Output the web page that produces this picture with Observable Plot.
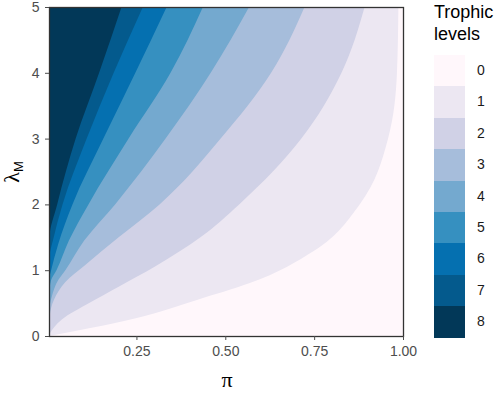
<!DOCTYPE html>
<html><head><meta charset="utf-8">
<script src="https://cdn.jsdelivr.net/npm/d3@7"></script>
<script src="https://cdn.jsdelivr.net/npm/@observablehq/plot@0.6"></script>
<style>
body{margin:0;background:#fff;font-family:"Liberation Sans",Arial,sans-serif}
#wrap{position:relative;width:500px;height:393px}
.lg{position:absolute}
</style>
</head><body><div id="wrap"></div>
<script>
// Trophic levels (legend categories) and colours
const levels = [0, 1, 2, 3, 4, 5, 6, 7, 8];
const levelColors = ["#fff7fb","#ece7f2","#d0d1e6","#a6bddb","#74a9cf","#3690c0","#0570b0","#045a8d","#023858"];
const xTicks = [0.25, 0.5, 0.75, 1.0];
const yTicks = [0, 1, 2, 3, 4, 5];

// Contour boundaries: [pi, lambdaM] pairs, one list per boundary
const edge1 = [[0,0],[0.12,0.12],[0.248,0.27],[0.418,0.545],[0.567,0.8],[0.751,1.3],[0.878,2],[0.958,3],[0.983,4],[0.987,5]]; // 0|1
const edge2 = [[0,0.02],[0.04,0.25],[0.117,0.5],[0.2,0.75],[0.3,1.05],[0.43,1.5],[0.539,2],[0.714,3],[0.827,4],[0.892,5]];  // 1|2
const edge3 = [[0,0.08],[0.006,0.3],[0.018,0.55],[0.05,0.82],[0.106,1.08],[0.2,1.5],[0.315,2],[0.487,3],[0.629,4],[0.723,5]]; // 2|3
const edge4 = [[0,0.2],[0.004,0.35],[0.012,0.6],[0.03,0.85],[0.05,1.0],[0.103,1.45],[0.19,2],[0.332,3],[0.459,4],[0.567,5]]; // 3|4
const edge5 = [[0,0.4],[0.004,0.6],[0.01,0.85],[0.025,1.0],[0.06,1.45],[0.115,2],[0.228,3],[0.346,4],[0.437,5]];             // 4|5
const edge6 = [[0,0.7],[0.004,0.85],[0.01,1.0],[0.03,1.4],[0.07,2],[0.157,3],[0.247,4],[0.335,5]];                           // 5|6
const edge7 = [[0,1.0],[0.005,1.2],[0.015,1.45],[0.042,2],[0.11,3],[0.186,4],[0.268,5]];                                     // 6|7
const edge8 = [[0,1.25],[0.005,1.5],[0.027,2],[0.079,3],[0.145,4],[0.208,5]];                                                // 7|8
const edges = [edge1, edge2, edge3, edge4, edge5, edge6, edge7, edge8];
const xMin = 0.004;

const marks = [Plot.frame({fill: levelColors[0], stroke: null})];
edges.forEach((e, i) => {
  marks.push(Plot.areaX(e, {y: d => d[1], x1: xMin, x2: d => Math.max(xMin, d[0]), fill: levelColors[i + 1], curve: "monotone-y", clip: true}));
});
marks.push(Plot.frame({stroke: "#333", strokeWidth: 1.3}));
marks.push(Plot.axisX({ticks: xTicks, tickFormat: d3.format(".2f"), tickSize: 4, tickPadding: 6, fontSize: 14, color: "#4d4d4d", label: null}));
marks.push(Plot.axisY({ticks: yTicks, tickFormat: d3.format("d"), tickSize: 4, tickPadding: 6, fontSize: 14, color: "#4d4d4d", label: null}));

const chart = Plot.plot({
  width: 500, height: 393,
  marginLeft: 49, marginRight: 97, marginTop: 7, marginBottom: 57,
  x: {domain: [xMin, 1]},
  y: {domain: [0, 5]},
  style: {fontFamily: "'Liberation Sans', Arial, sans-serif", background: "white", overflow: "visible"},
  marks
});
const wrap = document.getElementById("wrap");
wrap.appendChild(chart);

const svg = d3.select(chart);
svg.append("text").attr("x", 227).attr("y", 387).attr("text-anchor", "middle")
  .attr("font-family", "'Liberation Serif', serif").attr("font-size", 22).attr("fill", "#000").text("π");
const yl = svg.append("text").attr("transform", "translate(19,172) rotate(-90)").attr("text-anchor", "middle")
  .attr("fill", "#000");
yl.append("tspan").attr("font-family", "'Liberation Serif', serif").attr("font-size", 22).text("λ");
yl.append("tspan").attr("font-family", "'Liberation Sans', sans-serif").attr("font-size", 13).attr("dy", 4).text("M");

// Legend
const t = document.createElement("div");
t.className = "lg";
t.style.cssText = "left:434px;top:1px;font-size:18px;line-height:22px;color:#000";
t.innerHTML = "Trophic<br>levels";
wrap.appendChild(t);
const keyTop = 55, keyH = 31.4;
levels.forEach((lv, i) => {
  const k = document.createElement("div");
  k.className = "lg";
  k.style.cssText = `left:434px;top:${keyTop + keyH * i}px;width:31px;height:${keyH + 0.5}px;background:${levelColors[i]}`;
  wrap.appendChild(k);
  const l = document.createElement("div");
  l.className = "lg";
  l.style.cssText = `left:477px;top:${keyTop + keyH * i}px;height:${keyH}px;line-height:${keyH}px;font-size:14px;color:#1a1a1a`;
  l.textContent = String(lv);
  wrap.appendChild(l);
});
</script></body></html>
